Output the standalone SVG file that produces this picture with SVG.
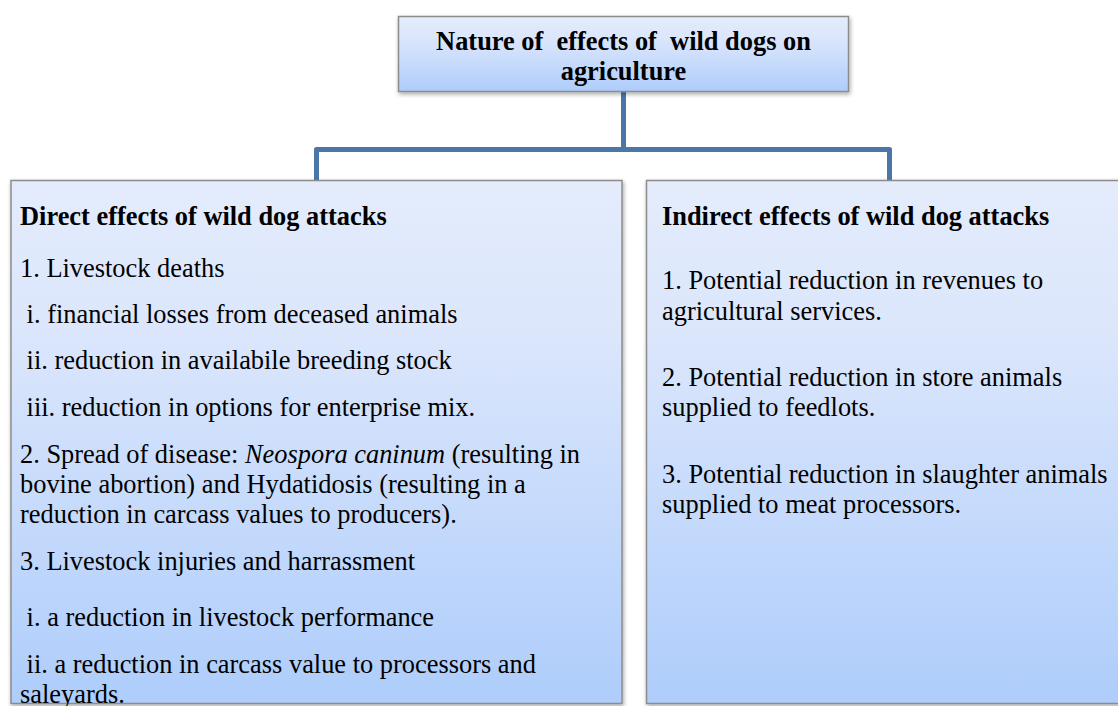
<svg xmlns="http://www.w3.org/2000/svg" width="1118" height="706" viewBox="0 0 1118 706">
<defs>
<linearGradient id="g" x1="0" y1="0" x2="0" y2="1">
<stop offset="0" stop-color="#e4ecfc"/>
<stop offset="0.3" stop-color="#dbe6fc"/>
<stop offset="1" stop-color="#aecdfb"/>
</linearGradient>
<filter id="sh" x="-5%" y="-5%" width="110%" height="115%">
<feDropShadow dx="1" dy="2" stdDeviation="2" flood-color="#000" flood-opacity="0.35"/>
</filter>
<style>
.box{fill:url(#g);stroke:#8c8c8c;stroke-width:1.5;filter:url(#sh)}
.t{font-family:"Liberation Serif","Times New Roman",serif;font-size:26.4px;fill:#000;white-space:pre}
.b{font-weight:bold}
.conn{fill:none;stroke:#4a77a7;stroke-width:5;stroke-linejoin:round}
</style>
</defs>
<g id="connectors">
<path class="conn" d="M623.5 92 V149.5 H316.5 V181"/>
<path class="conn" d="M623.5 149.5 H889.5 V181"/>
</g>
<g id="top">
<rect class="box" x="398.5" y="16.5" width="450" height="75"/>
<text class="t b" x="623.5" y="50" text-anchor="middle" xml:space="preserve">Nature of  effects of  wild dogs on</text>
<text class="t b" x="623.5" y="80" text-anchor="middle">agriculture</text>
</g>
<g id="direct">
<rect class="box" x="11" y="180.5" width="611" height="523"/>
<text class="t b" x="20" y="225">Direct effects of wild dog attacks</text>
<text class="t" x="20" y="277">1. Livestock deaths</text>
<text class="t" x="20" y="323" xml:space="preserve"> i. financial losses from deceased animals</text>
<text class="t" x="20" y="369" xml:space="preserve"> ii. reduction in availabile breeding stock</text>
<text class="t" x="20" y="416" xml:space="preserve"> iii. reduction in options for enterprise mix.</text>
<text class="t" x="20" y="463" xml:space="preserve">2. Spread of disease: <tspan font-style="italic">Neospora caninum</tspan> (resulting in</text>
<text class="t" x="20" y="493">bovine abortion) and Hydatidosis (resulting in a</text>
<text class="t" x="20" y="523">reduction in carcass values to producers).</text>
<text class="t" x="20" y="570">3. Livestock injuries and harrassment</text>
<text class="t" x="20" y="626" xml:space="preserve"> i. a reduction in livestock performance</text>
<text class="t" x="20" y="673" xml:space="preserve"> ii. a reduction in carcass value to processors and</text>
<text class="t" x="20" y="703">saleyards.</text>
</g>
<g id="indirect">
<rect class="box" x="646.5" y="180.5" width="480" height="523"/>
<text class="t b" x="662" y="225">Indirect effects of wild dog attacks</text>
<text class="t" x="662" y="289">1. Potential reduction in revenues to</text>
<text class="t" x="662" y="320">agricultural services.</text>
<text class="t" x="662" y="386">2. Potential reduction in store animals</text>
<text class="t" x="662" y="416">supplied to feedlots.</text>
<text class="t" x="662" y="483">3. Potential reduction in slaughter animals</text>
<text class="t" x="662" y="513">supplied to meat processors.</text>
</g>
</svg>
